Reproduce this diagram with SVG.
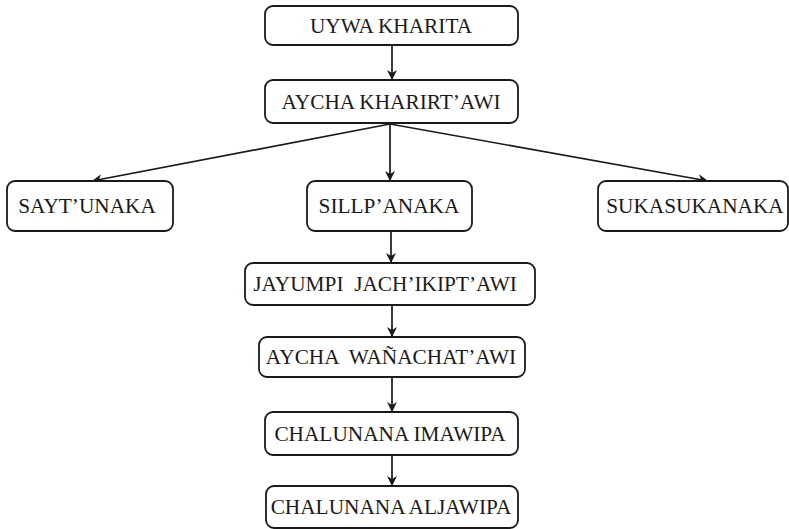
<svg xmlns="http://www.w3.org/2000/svg" width="789" height="529" viewBox="0 0 789 529">
<defs>
<marker id="ah" viewBox="0 0 10 10" refX="10" refY="5" markerWidth="10" markerHeight="10" markerUnits="userSpaceOnUse" orient="auto">
<path d="M0,0 L10,5 L0,10 L3,5 Z" fill="#1a1a1a"/>
</marker>
<style>
.box{fill:#fff;stroke:#1a1a1a;stroke-width:1.8}
.t{font-family:"Liberation Serif","Times New Roman",serif;font-size:21.3px;fill:#1a1a1a;text-anchor:middle}
.c{stroke:#1a1a1a;stroke-width:1.7;fill:none;marker-end:url(#ah)}
</style>
</defs>
<rect width="789" height="529" fill="#fff"/>
<g id="connectors">
<line class="c" x1="392" y1="45" x2="392" y2="80"/>
<line class="c" x1="390" y1="124" x2="92" y2="181"/>
<line class="c" x1="390" y1="124" x2="390" y2="181"/>
<line class="c" x1="390" y1="124" x2="708" y2="181"/>
<line class="c" x1="391" y1="231" x2="391" y2="263"/>
<line class="c" x1="392" y1="305" x2="392" y2="337"/>
<line class="c" x1="392" y1="377" x2="392" y2="412"/>
<line class="c" x1="392" y1="455" x2="392" y2="486"/>
</g>
<g id="n1"><rect class="box" x="265" y="6" width="253" height="39" rx="8"/><text class="t" x="391" y="33">UYWA KHARITA</text></g>
<g id="n2"><rect class="box" x="265" y="80" width="253" height="43" rx="8"/><text class="t" x="391" y="109">AYCHA KHARIRT’AWI</text></g>
<g id="n3"><rect class="box" x="7" y="181" width="166" height="50" rx="8"/><text class="t" x="87" y="213">SAYT’UNAKA</text></g>
<g id="n4"><rect class="box" x="307" y="181" width="165" height="50" rx="8"/><text class="t" x="389" y="213">SILLP’ANAKA</text></g>
<g id="n5"><rect class="box" x="598" y="181" width="190" height="50" rx="8"/><text class="t" x="695" y="213">SUKASUKANAKA</text></g>
<g id="n6"><rect class="box" x="245" y="263" width="290" height="42" rx="8"/><text class="t" x="385" y="291" xml:space="preserve">JAYUMPI  JACH’IKIPT’AWI</text></g>
<g id="n7"><rect class="box" x="259" y="337" width="266" height="40" rx="8"/><text class="t" x="391" y="364" xml:space="preserve">AYCHA  WAÑACHAT’AWI</text></g>
<g id="n8"><rect class="box" x="265" y="412" width="253" height="43" rx="8"/><text class="t" x="390" y="441">CHALUNANA IMAWIPA</text></g>
<g id="n9"><rect class="box" x="266" y="486" width="252" height="42" rx="8"/><text class="t" x="391" y="514">CHALUNANA ALJAWIPA</text></g>
</svg>
